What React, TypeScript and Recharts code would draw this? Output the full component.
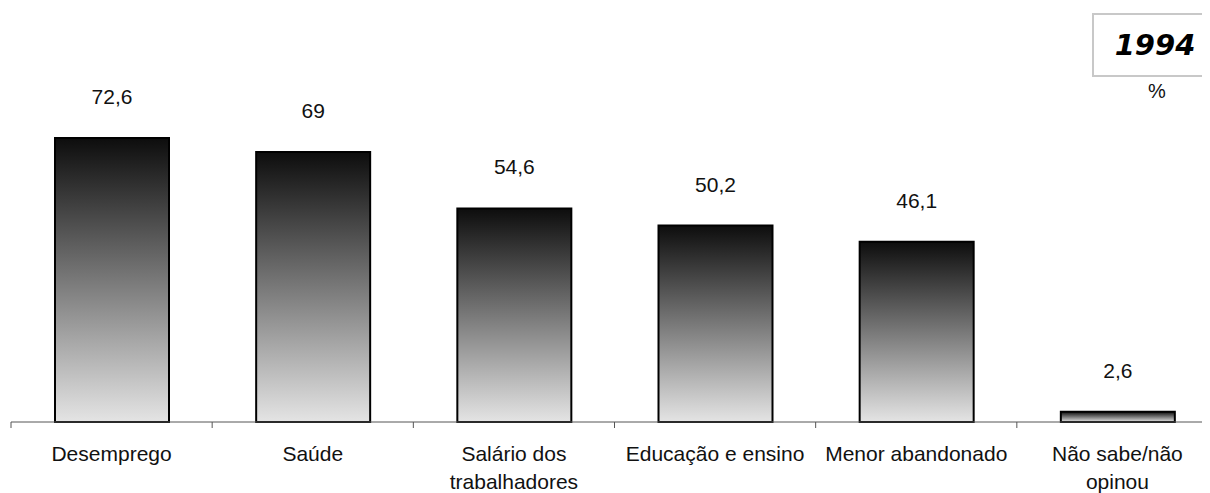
import { BarChart, Bar, XAxis, YAxis, LabelList } from "recharts"

const categories = [
  "Desemprego",
  "Saúde",
  "Salário dos\ntrabalhadores",
  "Educação e ensino",
  "Menor abandonado",
  "Não sabe/não\nopinou",
]
const percents = [72.6, 69, 54.6, 50.2, 46.1, 2.6]
const year = "1994"

const data = categories.map((name, i) => ({ name, value: percents[i] }))

const W = 1220
const H = 485
const M = { top: 101, right: 10, left: 3, bottom: 0 }
const BAND = (W - M.left - M.right) / categories.length
const FONT = "'Liberation Sans', Arial, sans-serif"

function Tick(props: any) {
  const { x, y, payload, index } = props
  const lines = String(payload.value).split("\n")
  const left = x - BAND / 2
  return (
    <g>
      <line x1={left} y1={y} x2={left} y2={y + 6} stroke="#555" />
      {index === categories.length - 1 && (
        <line x1={left + BAND} y1={y} x2={left + BAND} y2={y + 6} stroke="#555" />
      )}
      <text x={x} y={y + 39} textAnchor="middle" fontSize={21} fill="#111" fontFamily={FONT}>
        {lines.map((l, i) => (
          <tspan key={i} x={x} dy={i === 0 ? 0 : 27.5}>
            {l}
          </tspan>
        ))}
      </text>
    </g>
  )
}

// comma decimal, as in the original
const fmt = (v: any) => String(v).replace(".", ",")

export default function App() {
  return (
    <div style={{ position: "relative", width: 1202, height: H, overflow: "hidden", fontFamily: FONT }}>
      <BarChart width={W} height={H} data={data} margin={M}>
        <defs>
          <linearGradient id="barFill" x1="0" y1="0" x2="0" y2="1">
            <stop offset="0%" stopColor="#0d0d0d" />
            <stop offset="100%" stopColor="#e4e4e4" />
          </linearGradient>
        </defs>
        <XAxis
          dataKey="name"
          interval={0}
          height={71}
          tickSize={0}
          tickMargin={0}
          tickLine={false}
          axisLine={{ stroke: "#555" }}
          tick={<Tick />}
        />
        <YAxis hide domain={[0, 80]} />
        <Bar dataKey="value" barSize={114} fill="url(#barFill)" stroke="#000" strokeWidth={2} isAnimationActive={false}>
          <LabelList dataKey="value" position="top" offset={34} formatter={fmt} fontSize={21} fill="#111" fontFamily={FONT} />
        </Bar>
      </BarChart>

      <div
        style={{
          position: "absolute",
          left: 1084,
          top: 5,
          width: 126,
          height: 64,
          boxSizing: "border-box",
          border: "2px solid #c8c8c8",
          background: "#fff",
          display: "flex",
          alignItems: "center",
          justifyContent: "center",
          fontFamily: "'DejaVu Sans', Verdana, sans-serif",
          fontWeight: "bold",
          fontStyle: "italic",
          fontSize: 29,
          color: "#000",
        }}
      >
        {year}
      </div>
      <div style={{ position: "absolute", left: 1129, top: 72, width: 40, textAlign: "center", fontSize: 20, color: "#111" }}>
        %
      </div>
    </div>
  )
}
